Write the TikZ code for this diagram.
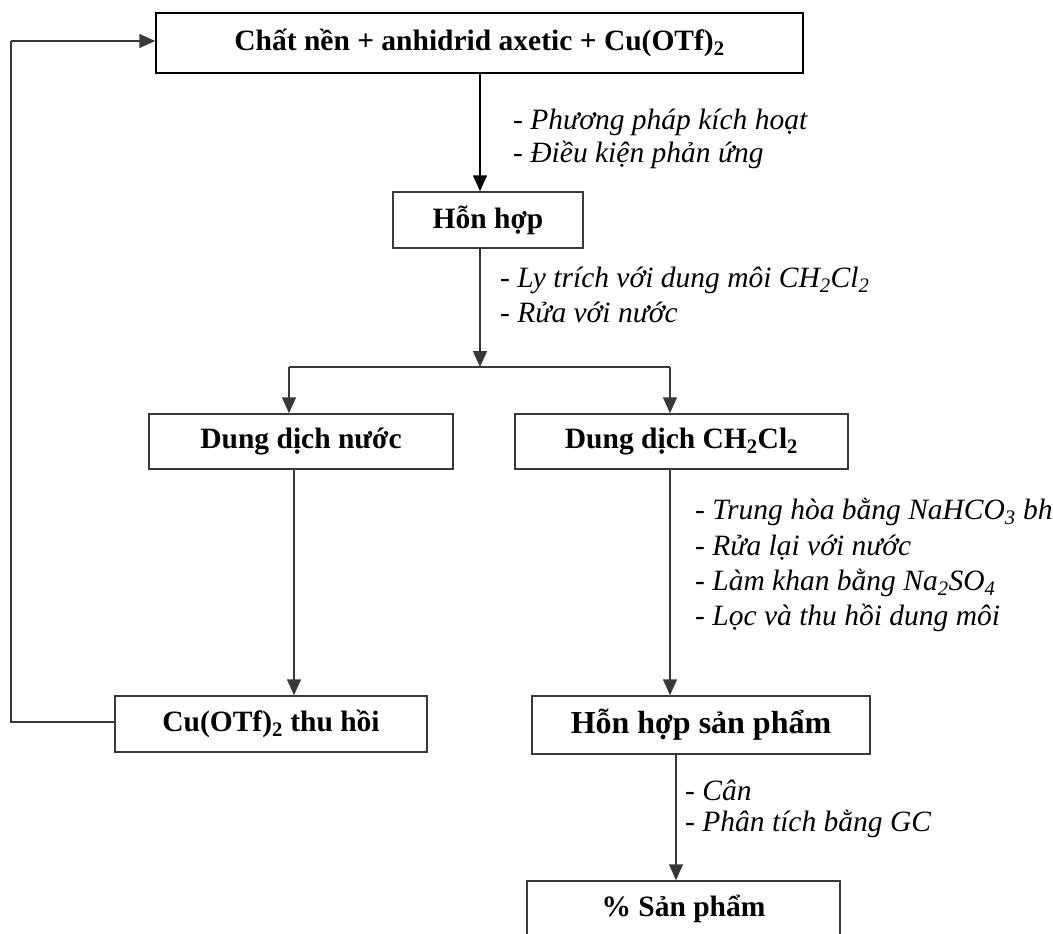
\documentclass[tikz,border=0pt]{standalone}
\usepackage{fontspec}
\setmainfont{Liberation Serif}
\usetikzlibrary{arrows.meta}
\definecolor{linec}{HTML}{383838}
\tikzset{
  box/.style={draw=linec, line width=1.5pt, fill=white, inner sep=0pt,
    font=\bfseries\fontsize{29.5}{33}\selectfont},
  lbl/.style={anchor=west, inner sep=0pt, font=\itshape\fontsize{29.5}{33}\selectfont},
  conn/.style={draw=linec, line width=1.5pt},
  arr/.style={conn, -{Triangle[width=14pt,length=16pt]}}
}
\begin{document}
\begin{tikzpicture}[x=1pt,y=-1pt]
\clip (0,0) rectangle (1053,934);
\fill[white] (0,0) rectangle (1053,934);
% boxes
\node[box, draw=black, minimum width=647pt, minimum height=60pt] (top) at (479.5,43) {Chất nền + anhidrid axetic + Cu(OTf)\textsubscript{2}};
\node[box, minimum width=190pt, minimum height=56pt] (hh) at (488,220) {Hỗn hợp};
\node[box, minimum width=304pt, minimum height=55pt] (nuoc) at (301,441.5) {Dung dịch nước};
\node[box, minimum width=333pt, minimum height=55pt] (ch) at (681.5,441.5) {Dung dịch CH\textsubscript{2}Cl\textsubscript{2}};
\node[box, minimum width=312pt, minimum height=56pt] (cu) at (271,724) {Cu(OTf)\textsubscript{2} thu hồi};
\node[box, minimum width=338pt, minimum height=58pt, font=\bfseries\fontsize{32}{36}\selectfont] (sp) at (701,725) {Hỗn hợp sản phẩm};
\node[box, minimum width=313pt, minimum height=56pt] (pct) at (683.5,909) {\% Sản phẩm};
% helper coordinates
\coordinate (c1) at (480,0);
\coordinate (j) at (480,367);
\coordinate (jl) at (289,367);
\coordinate (jr) at (670,367);
\coordinate (c2) at (294,0);
\coordinate (c3) at (676,0);
\coordinate (fl) at (11,722);
\coordinate (ft) at (11,41);
% connectors
\draw[arr, draw=black] (c1 |- top.south) -- (c1 |- hh.north);
\draw[arr] (c1 |- hh.south) -- (j);
\draw[conn] (jl) -- (jr);
\draw[arr] (jl) -- (jl |- nuoc.north);
\draw[arr] (jr) -- (jr |- ch.north);
\draw[arr] (c2 |- nuoc.south) -- (c2 |- cu.north);
\draw[arr] (jr |- ch.south) -- (jr |- sp.north);
\draw[arr] (c3 |- sp.south) -- (c3 |- pct.north);
\draw[conn] (cu.west |- fl) -- (fl) -- (ft);
\draw[arr] (ft) -- (ft -| top.west);
% labels
\node[lbl] (l1) at (513,122) {- Phương pháp kích hoạt};
\node[lbl] (l2) at (513,155) {- Điều kiện phản ứng};
\node[lbl] (l3) at (500,280) {- Ly trích với dung môi CH\textsubscript{2}Cl\textsubscript{2}};
\node[lbl] (l4) at (500,312) {- Rửa với nước};
\node[lbl] (l5) at (695,512) {- Trung hòa bằng NaHCO\textsubscript{3} bh};
\node[lbl] (l6) at (695,548) {- Rửa lại với nước};
\node[lbl] (l7) at (695,583) {- Làm khan bằng Na\textsubscript{2}SO\textsubscript{4}};
\node[lbl] (l8) at (695,618) {- Lọc và thu hồi dung môi};
\node[lbl] (l9) at (685,790) {- Cân};
\node[lbl] (l10) at (685,824) {- Phân tích bằng GC};
\end{tikzpicture}
\end{document}
